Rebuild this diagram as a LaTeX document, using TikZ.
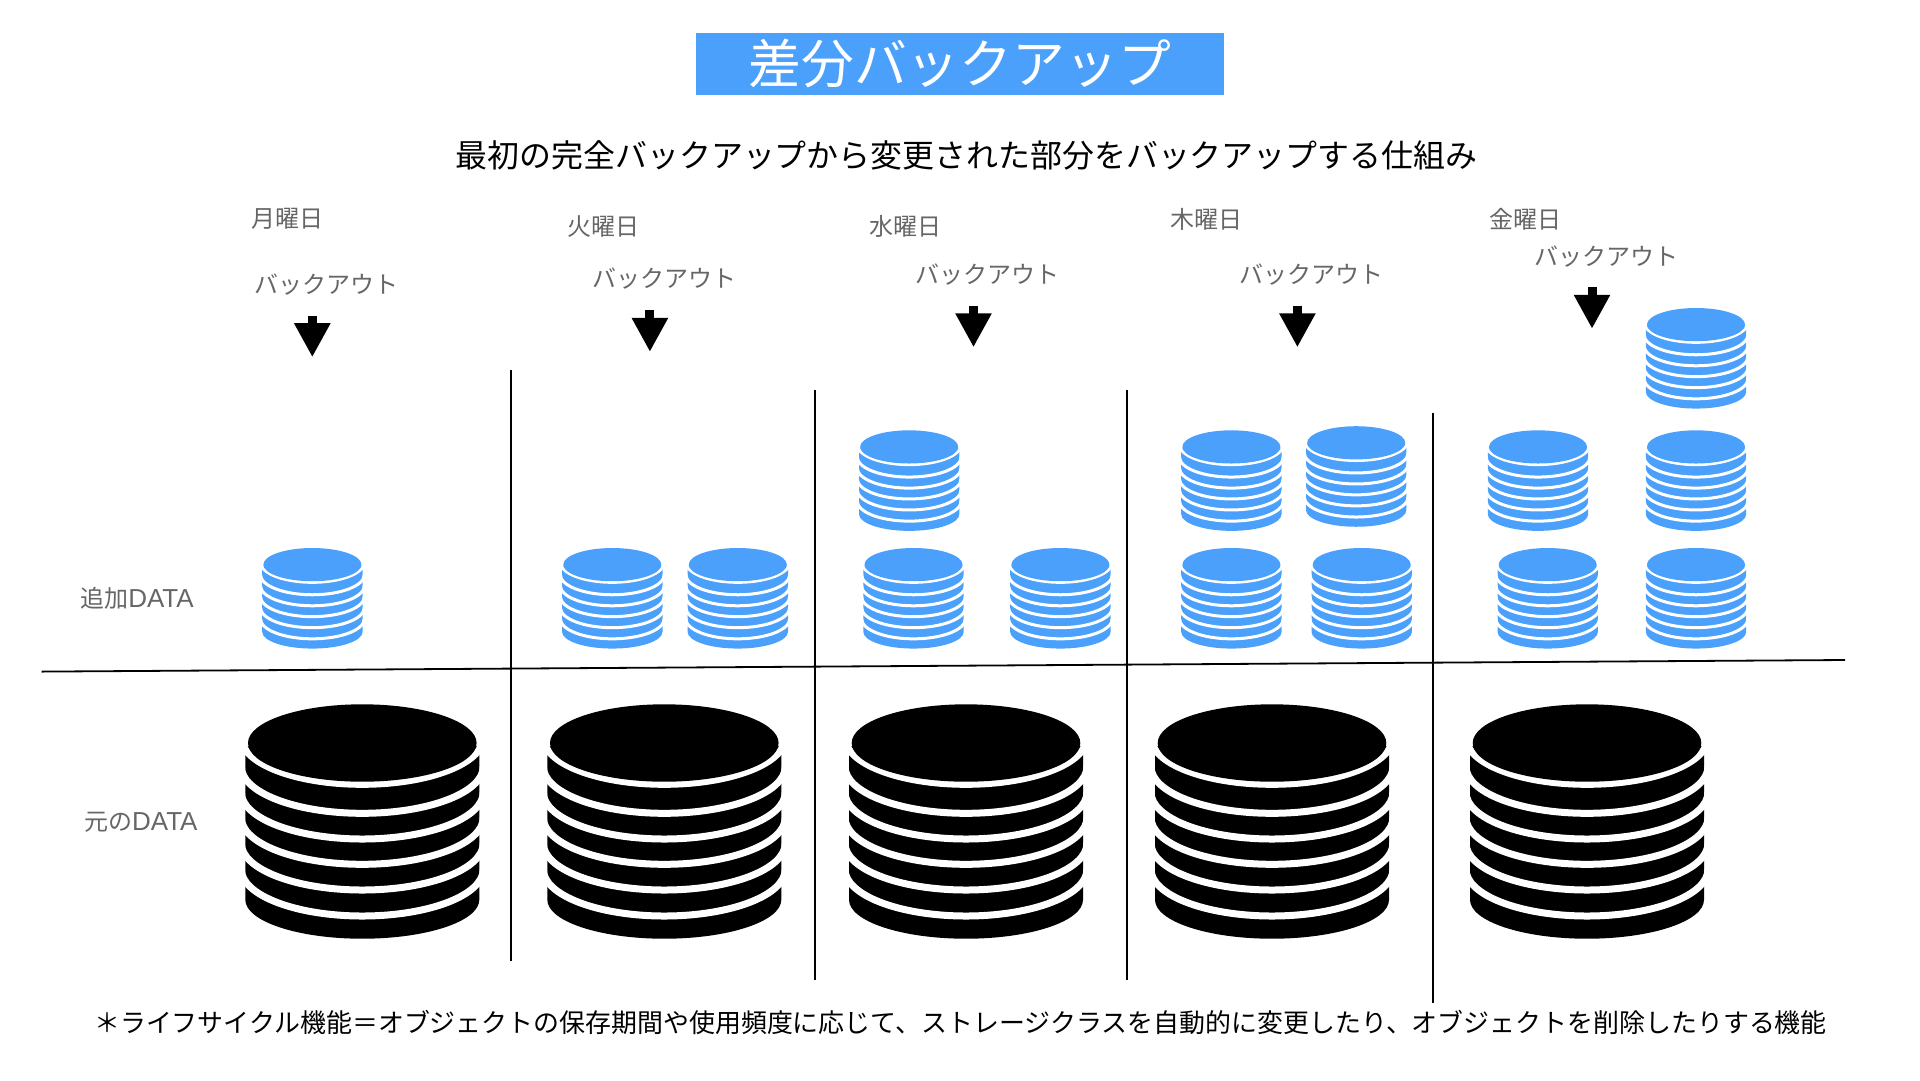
\documentclass[tikz,border=0pt]{standalone}
\usepackage{fontspec}
\setmainfont{Noto Sans CJK JP}
\newfontfamily\latinfont{Liberation Sans}
\usetikzlibrary{arrows.meta}
\definecolor{skyblue}{HTML}{4AA0FA}
\definecolor{labelgray}{HTML}{666666}
\newcommand{\datatext}{{\latinfont\fontsize{26pt}{28pt}\selectfont DATA}}
\tikzset{
  daylabel/.style={text=labelgray, font=\fontsize{24pt}{28pt}\selectfont, inner sep=0pt},
  bigarrow/.style={line width=9pt, -{Triangle[length=34pt,width=34pt]}},
  divider/.style={black, line width=1.8pt},
}
\newcommand{\datastack}[4]{%
  \begin{scope}[shift={(#1,#2)},scale=#3]
    \fill[#4] (-117,42) -- (-117,195.4) arc (180:0:117 and 39) -- (117,42) -- cycle;
    \foreach \b in {80,109,134.7,160,185.7,211.7} {
      \draw[white, line width=7pt*#3] (-121,\b-46.8) arc (180:0:121 and 46.8);
    }
    \fill[#4] (0,38.7) ellipse (114.3 and 38.7);
  \end{scope}%
}
\begin{document}
\begin{tikzpicture}[x=1pt,y=-1pt]
\useasboundingbox (0,0) rectangle (1920,1080);

% Title and sentences
\node[fill=skyblue, text=white, minimum width=528.5pt, minimum height=62pt, inner sep=0pt, font=\fontsize{52.8pt}{60pt}\selectfont] (title) at (959.75,64) {差分バックアップ};
\node[font=\fontsize{31.92pt}{36pt}\selectfont, inner sep=0pt] (subtitle) at (966.5,155.8) {最初の完全バックアップから変更された部分をバックアップする仕組み};
\node[font=\fontsize{25.93pt}{30pt}\selectfont, inner sep=0pt] (footer) at (960.5,1022.5) {＊ライフサイクル機能＝オブジェクトの保存期間や使用頻度に応じて、ストレージクラスを自動的に変更したり、オブジェクトを削除したりする機能};

% Day names and backup labels
\foreach \i/\day/\x/\y in {mon/月曜日/287.5/219, tue/火曜日/603/227, wed/水曜日/905/226.5, thu/木曜日/1206.5/219, fri/金曜日/1525.5/219} {
    \node[daylabel] (\i) at (\x,\y) {\day};
}
\foreach \i/\x/\y in {mon/326.9/285, tue/664.9/279, wed/987.5/274.8, thu/1311/274.8, fri/1606.5/257} {
    \node[daylabel] (\i back) at (\x,\y) {バックアウト};
}
\node[daylabel] (added) at (137,598) {追加\datatext};
\node[daylabel] (original) at (140.8,822) {元の\datatext};

% Arrows under the backup labels
\foreach \i/\x/\y in {mon/312.3/357.2, tue/649.9/351.9, wed/973.5/347.3, thu/1297.4/347.3, fri/1592/328.8} {
    \coordinate (\i tip) at (\x,\y);
    \coordinate (\i tail) at (\x,\y-41.7);
    \draw[bigarrow] (\i tail) -- (\i tip);
}

% Horizontal line and column dividers
\coordinate (hleft) at (41.6,671.6);
\coordinate (hright) at (1845,660);
\draw[divider] (hleft) -- (hright);
\foreach \i/\x/\ya/\yb in {1/511/370/960.5, 2/815/390.2/980, 3/1127.3/390.2/980, 4/1432.7/412.6/1003} {
    \coordinate (d\i a) at (\x,\ya);
    \coordinate (d\i b) at (\x,\yb);
    \draw[divider] (d\i a) -- (d\i b);
}

% Original data, one stack for each day
\foreach \x in {362.3,664.3,966,1272,1587} {
    \datastack{\x}{704.3}{1}{black}
}

% Added data
\foreach \x/\y in {312.4/548, 612.3/548, 737.8/548, 913.5/548, 1060.4/548, 1231.4/548, 1361.7/548, 1547.7/548, 1696/548,
                   909.2/430.3, 1231.4/430.3, 1356.2/426.2, 1538/430.3, 1696/430.3, 1696/308} {
    \datastack{\x}{\y}{0.429}{skyblue}
}

\end{tikzpicture}
\end{document}
